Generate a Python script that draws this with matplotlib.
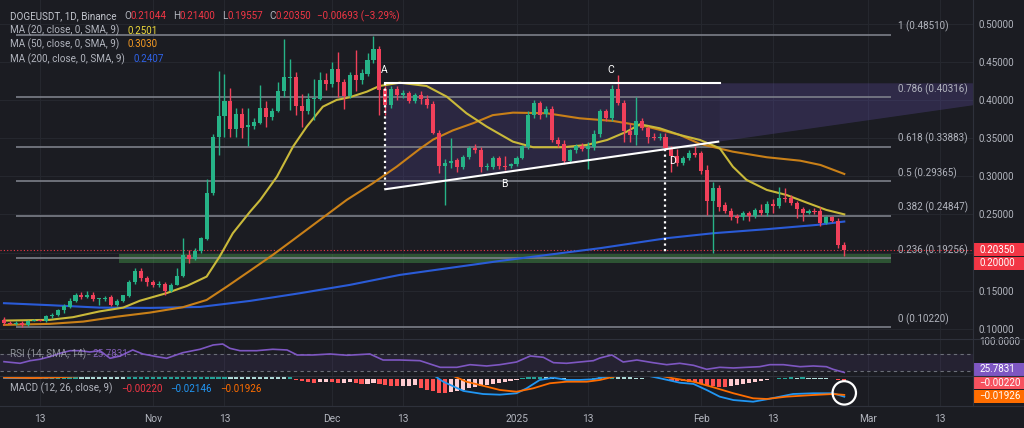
import numpy as np
import pandas as pd
import matplotlib
matplotlib.use('Agg')
import matplotlib.pyplot as plt
import matplotlib.patches as mpatches
from matplotlib.transforms import IdentityTransform

W, H = 1024, 428
BG = '#1b1c22'
GRID = '#25272e'
SEP = '#2e313b'
TXT = '#b2b5be'
UP, DOWN = '#26b387', '#f0405a'

# ---- data (DOGEUSDT daily) ----
start = '2024-10-07'
opens = [.112, .108, .1065, .108, .105, .111, .1115, .110, .117, .118,
         .125, .129, .137, .145, .142, .145, .139, .139, .142, .131,
         .137, .143, .161, .176, .167, .161, .158, .159, .150, .158,
         .170, .197, .192, .202, .218, .278, .351, .379, .399, .362,
         .381, .364, .366, .370, .390, .377, .386, .412, .429, .430,
         .392, .386, .401, .401, .426, .421, .440, .424, .405, .433,
         .426, .434, .452, .466, .414, .393, .414, .406, .409, .398,
         .406, .401, .394, .357, .313, .317, .321, .312, .325, .337,
         .335, .312, .312, .324, .314, .313, .316, .324, .338, .380,
         .396, .381, .388, .348, .342, .320, .334, .340, .336, .338,
         .355, .385, .376, .414, .396, .359, .354, .372, .363, .352,
         .350, .352, .337, .327, .318, .324, .331, .330, .308, .267,
         .284, .262, .255, .248, .246, .252, .248, .256, .252, .264,
         .261, .271, .271, .265, .257, .252, .255, .255, .239, .246,
         .242, .21044]
highs = [.116, .111, .110, .110, .112, .113, .113, .118, .121, .126,
         .133, .140, .147, .148, .150, .148, .141, .143, .144, .139,
         .145, .164, .180, .180, .170, .164, .163, .161, .160, .180,
         .219, .204, .206, .221, .297, .355, .438, .434, .415, .390,
         .389, .390, .376, .419, .398, .390, .424, .480, .453, .437,
         .408, .409, .428, .437, .435, .449, .463, .427, .437, .465,
         .440, .461, .484, .470, .418, .418, .418, .413, .412, .409,
         .412, .406, .398, .360, .322, .350, .324, .328, .340, .342,
         .338, .318, .327, .326, .326, .318, .327, .341, .385, .400,
         .398, .392, .392, .352, .348, .336, .342, .344, .345, .361,
         .388, .388, .420, .433, .400, .370, .404, .376, .366, .356,
         .356, .356, .340, .336, .327, .334, .339, .333, .315, .293,
         .289, .266, .258, .251, .254, .254, .258, .264, .267, .270,
         .286, .284, .276, .268, .260, .257, .258, .260, .248, .248,
         .245, .214]
lows = [.105, .106, .105, .103, .104, .110, .110, .109, .114, .117,
        .121, .128, .135, .139, .141, .137, .132, .137, .130, .130,
        .136, .142, .159, .163, .156, .155, .155, .144, .149, .157,
        .168, .186, .190, .199, .216, .275, .328, .351, .352, .352,
        .350, .340, .362, .368, .365, .374, .384, .404, .387, .380,
        .365, .381, .374, .400, .413, .417, .404, .388, .403, .411,
        .421, .431, .448, .380, .380, .389, .400, .402, .396, .396,
        .395, .389, .355, .304, .262, .311, .306, .309, .322, .330,
        .306, .308, .309, .310, .308, .311, .314, .322, .336, .376,
        .375, .378, .345, .338, .316, .318, .331, .333, .310, .335,
        .352, .372, .373, .393, .345, .345, .341, .360, .343, .347,
        .347, .334, .306, .313, .315, .321, .325, .303, .249, .200,
        .254, .252, .243, .239, .243, .242, .245, .249, .248, .252,
        .258, .266, .262, .245, .242, .250, .250, .235, .237, .240,
        .206, .19557]
closes = [.108, .107, .108, .105, .111, .1115, .111, .117, .118, .125,
          .130, .137, .144, .142, .144, .139, .140, .141, .131, .137,
          .144, .162, .176, .167, .161, .158, .159, .150, .158, .170,
          .197, .192, .202, .219, .278, .351, .379, .399, .362, .381,
          .363, .367, .371, .390, .377, .386, .412, .430, .430, .392,
          .386, .401, .402, .426, .421, .440, .424, .405, .433, .426,
          .435, .452, .466, .413, .393, .414, .406, .409, .398, .406,
          .401, .393, .357, .313, .317, .320, .312, .325, .337, .334,
          .312, .313, .324, .313, .312, .316, .324, .339, .380, .396,
          .380, .388, .348, .342, .320, .334, .340, .336, .339, .355,
          .385, .376, .414, .396, .359, .354, .372, .363, .352, .350,
          .352, .337, .326, .317, .324, .331, .328, .307, .267, .284,
          .260, .255, .247, .245, .252, .248, .256, .252, .264, .261,
          .271, .270, .265, .257, .252, .255, .253, .239, .246, .242,
          .21043, .2035]

ma20_day = [0, 7.7, 11.6, 16, 20, 22.8, 27.3, 30.7, 34, 36.2, 38.4, 41.3, 43, 45.8, 48.5,
            50.8, 53.5, 55.8, 58, 60.9, 63, 66.4, 70.9, 74.3, 77.6, 81, 85.4, 88.8, 93.8,
            97.8, 101.2, 104.5, 106.7, 110, 113.4, 116.8, 120.1, 122.3, 124.6, 128, 131.3,
            134.7, 138, 141]
ma20_val = [.111, .112, .1155, .123, .128, .137, .147, .1564, .1686, .195, .2254, .2537, .269,
            .2995, .3388, .365, .3911, .3999, .4034, .4108, .4182, .4225, .4182, .4042, .3825,
            .365, .3453, .338, .338, .341, .3475, .3584, .3681, .3629, .3541, .3475, .3367,
            .3126, .2952, .2821, .2755, .2655, .2559, .2501]
ma50_day = [0, 7.7, 13.3, 19, 24.5, 30, 34, 37.4, 41.3, 45.1, 48.5, 53, 57.5, 61.9, 65.9,
            69.8, 72, 75.3, 78.7, 82, 85.4, 91.1, 96.6, 102.2, 107.9, 113.4, 116.8, 122.3,
            128, 133.6, 137, 141]
ma50_val = [.1054, .1067, .1097, .1162, .1215, .1285, .138, .1555, .1764, .197, .2166, .2428,
            .269, .2909, .3126, .336, .348, .360, .3694, .380, .3833, .3825, .3759, .3724,
            .365, .3541, .3423, .3322, .3249, .3204, .3148, .303]
ma200_day = [0, 7.7, 16, 24.5, 32.9, 41.3, 49.7, 58, 66.4, 83.2, 100, 111.2, 119, 128, 136.4, 141]
ma200_val = [.1338, .1312, .128, .1276, .1289, .1368, .1469, .1577, .1708, .1891, .2058,
             .2189, .2254, .2307, .2363, .2407]

rsi_day = [0, 2.7, 4.4, 6, 7.7, 9.4, 11.1, 12.8, 14.4, 16.1, 17.8, 19.5, 21.6, 23.3, 25.7,
           27.3, 30, 32.9, 35.1, 36.7, 37.9, 39.6, 42.4, 45.1, 47.5, 49.2, 51.8, 54.7, 57.6,
           61.4, 63.6, 66.4, 69.8, 73.2, 76, 78.2, 81, 83.2, 86, 88.3, 90.5, 92.2, 94.4, 96.6,
           98.9, 100, 102, 103.9, 106.2, 108.9, 111.2, 113.4, 115.7, 117.9, 120.1, 122.4,
           124.6, 126.8, 128.5, 130.8, 133.6, 135.8, 138, 139.1, 141]
rsi_val = [51.6, 47.7, 54, 57.3, 63.5, 71.7, 77.9, 77.9, 74.8, 77.9, 59.7, 65.2, 79.6, 70,
           63.5, 59.7, 73.1, 81.3, 91.6, 93.9, 83.6, 77.9, 77.9, 81.3, 79.6, 67.6, 67.6, 70,
           66.9, 70, 55.6, 55.6, 54, 38.1, 38.1, 44.4, 41.3, 44.4, 50.8, 65.2, 62.1, 49.2,
           47.7, 50.8, 54, 60.4, 67.6, 50.8, 55.6, 49.2, 44.4, 47.7, 42.9, 33.4, 38.1, 36.5,
           38.1, 39.6, 44.4, 44.4, 39.6, 41.3, 39.6, 33.4, 25.7831]

macd_day = [0, 4, 8, 11, 14, 20, 30, 36, 45, 55, 63, 68, 72.3, 73.7, 77.1, 80.4, 83.2, 86,
            87.7, 89.9, 92.2, 94.4, 96.6, 98.9, 101.1, 103.4, 106.7, 110.1, 113.4, 115.7,
            117.9, 120.1, 122.4, 125.7, 128, 130.2, 132.4, 135.8, 139.1, 141]
macd_val = [.0012, .0010, .0018, .0030, .0060, .0080, .0120, .0300, .0550, .0500, .0450,
            .0250, .0036, -.0033, -.0145, -.0182, -.0190, -.0173, -.0113, -.0012, .0016,
            -.0012, -.0012, -.0004, .0028, .0050, .0060, .0008, -.0045, -.0060, -.0133,
            -.0214, -.0255, -.0275, -.0246, -.0214, -.0182, -.0173, -.0173, -.02146]
signal_day = [0, 5, 10, 14, 20, 30, 40, 50, 60, 70, 75.4, 77.6, 81, 83.2, 86, 88.8, 91.6,
              94.4, 97.8, 100, 102.8, 105.6, 110.1, 112.3, 115.7, 119, 122.4, 125.7, 128,
              131.3, 135.8, 139.1, 141]
signal_val = [.0018, .0012, .0022, .0040, .0070, .0100, .0350, .0500, .0480, .0200, .0036,
              -.0033, -.0093, -.0133, -.0154, -.0113, -.0052, -.0033, -.0033, -.0012, .0036,
              .0060, .0040, .0008, -.0033, -.0100, -.0173, -.0234, -.0242, -.0214, -.0194,
              -.0182, -.01926]
hist = ([.0004, .0002, -.0002, -.0003, .0001, .0004, .0007, .0010, .0014, .0018]
        + [.0060, .0100, .0140, .0130, .0125, .0118, .0110, .0102, .0095, .0088]
        + [.0080]
        + [.0085, .0090, .0095, .0100, .0105, .0110, .0115, .0120, .0125, .0135, .0150,
           .0165, .0180, .0200, .0230, .0260, .0280]
        + [.0260, .0240, .0220, .0200, .0180, .0160, .0140, .0120, .0100, .0080]
        + [.0085]
        + [-.001, -.003, -.004, -.005, -.004, -.0035, -.004, -.005, -.0045, -.004, -.005,
           -.006, -.0055, -.005, -.0065, -.0075, -.0085, -.009, -.0085, -.008, -.0078,
           -.011, -.013, -.015, -.017, -.0175, -.016, -.015, -.013, -.011, -.0095, -.008,
           -.0068, -.0055, -.0045, -.0035, -.0025, -.0012]
        + [.0010, .0025, .0038, .0045, .0040, .0028, .0015, .0006, -.0004, -.0006, -.0002,
           .0003, .0012, .0022, .0032, .0040, .0035, .0028, .0022, .0014, .0008]
        + [-.0003, -.0005, -.0004, -.0012, -.0020, -.0026, -.0028, -.0032, -.0040,
           -.0055, -.0070, -.0085, -.0092, -.0094, -.0085, -.0072, -.0060, -.0048,
           -.0035, -.0022, -.0010, -.0002]
        + [.0008, .0014, .0018, .0016, .0019, .0015, .0012, .0009, .0006, .0003, -.0010, -.0022])

fib_levels = ['1', '0.786', '0.618', '0.5', '0.382', '0.236', '0']
fib_prices = [0.48510, 0.40316, 0.33883, 0.29365, 0.24847, 0.19256, 0.10220]
price_ticks = [0.10, 0.15, 0.20, 0.25, 0.30, 0.35, 0.40, 0.45, 0.50]
tick_dates = ['2024-10-13', '2024-11-01', '2024-11-13', '2024-12-01', '2024-12-13',
              '2025-01-01', '2025-01-13', '2025-02-01', '2025-02-13', '2025-03-01', '2025-03-13']
tick_labels = ['13', 'Nov', '13', 'Dec', '13', '2025', '13', 'Feb', '13', 'Mar', '13']

plt.rcParams['font.family'] = ['Roboto', 'DejaVu Sans']
FS = 7.1

dates = pd.date_range(start, periods=len(closes), freq='D')
x = np.arange(len(closes))
o, h, l, c = map(np.array, (opens, highs, lows, closes))
tick_pos = (pd.to_datetime(tick_dates) - dates[0]).days

fig = plt.figure(figsize=(W / 100, H / 100), dpi=100, facecolor=BG)


def frame(top, bottom):
    return [0, 1 - bottom / H, 973 / W, (bottom - top) / H]


ax = fig.add_axes(frame(0, 339))
ax_rsi = fig.add_axes(frame(339, 376), sharex=ax)
ax_macd = fig.add_axes(frame(376, 406), sharex=ax)
for a in (ax, ax_rsi, ax_macd):
    a.set_facecolor(BG)
    for s in a.spines.values():
        s.set_visible(False)
    a.set_xticks(tick_pos)
    a.grid(axis='x', color=GRID, lw=0.8)
    a.set_axisbelow(True)
    a.tick_params(axis='x', length=0, labelbottom=False)
    a.tick_params(axis='y', length=0)
ax.set_xlim(-0.67, 162.6)

# ---- main price panel ----
ax.set_ylim(0.0869, 0.5308)
ax.yaxis.tick_right()
ax.set_yticks(price_ticks)
# the 0.20 label sits under the price tags, as on the chart
ax.set_yticklabels(['' if abs(v - 0.20) < 1e-9 else f'{v:.5f}' for v in price_ticks])
ax.tick_params(axis='y', pad=4.3, labelsize=FS, labelcolor=TXT)
ax.grid(axis='y', color=GRID, lw=0.8)

# triangle pattern (A-B-C-D)
a_day, a_top, a_bot = 63.98, 0.4217, 0.2830
b_day, b_val = 119.85, 0.3453
slope = (b_val - a_bot) / (b_day - a_day)
right = 162.6
ax.fill([a_day, right, right, a_day],
        [a_top, a_top, a_bot + slope * (right - a_day), a_bot],
        color='#5b4a9e', alpha=0.25, lw=0, zorder=1)
ax.fill([120.1, right, right, 120.1],
        [a_top, a_top, a_bot + slope * (right - a_day), a_bot + slope * (120.1 - a_day)],
        color='#6a5cb0', alpha=0.07, lw=0, zorder=1)

# green support zone and fib levels
ax.fill_between([19.3, 148.8], 0.1865, 0.1978, color='#4caf50', alpha=0.38, lw=0, zorder=1.5)
for lev, p in zip(fib_levels, fib_prices):
    ax.hlines(p, 2, 148.8, color='#7c7f89', lw=1.2, zorder=2)
    ax.annotate(f'{lev} ({p:.5f})', xy=(150, p), xytext=(0, 6), textcoords='offset points',
                va='center', ha='left', fontsize=FS, color=TXT)
ax.axhline(closes[-1], color='#f23645', ls=(0, (1, 2)), lw=0.8, zorder=3)

ax.plot([a_day, 120.1], [a_top, a_top], color='white', lw=1.5, zorder=6)
ax.plot([a_day, b_day], [a_bot, b_val], color='white', lw=1.5, zorder=6)
ax.plot([a_day, a_day], [a_top, a_bot], color='white', ls=(0, (1, 1.5)), lw=1.6, zorder=6)
ax.plot([110.96, 110.96], [a_bot + slope * (110.96 - a_day), 0.2013], color='white',
        ls=(0, (1, 1.5)), lw=1.6, zorder=6)
for name, d, p in [('A', 63.8, 0.4391), ('B', 83.9, 0.2899), ('C', 101.8, 0.4391), ('D', 112.1, 0.3200)]:
    ax.text(d, p, name, color='white', fontsize=7.5, ha='center', va='center', zorder=7)

# moving averages
ax.plot(ma200_day, ma200_val, color='#2a5bd7', lw=1.5, zorder=3)
ax.plot(ma50_day, ma50_val, color='#c98018', lw=1.5, zorder=3)
ax.plot(ma20_day, ma20_val, color='#c9b93a', lw=1.5, zorder=3)

# candles
up = c >= o
col = np.where(up, UP, DOWN)
ax.vlines(x, l, h, colors=col, lw=1, zorder=4)
ax.bar(x, np.maximum(np.abs(c - o), 0.0012), bottom=np.minimum(o, c), width=0.68,
       color=col, lw=0, zorder=5)

# ---- RSI panel ----
ax_rsi.set_ylim(17.3, 105.9)
ax_rsi.yaxis.tick_right()
ax_rsi.set_yticks([100])
ax_rsi.set_yticklabels(['100.0000'])
ax_rsi.tick_params(axis='y', pad=4.3, labelsize=FS, labelcolor=TXT)
ax_rsi.axhspan(30, 70, color='#7e57c2', alpha=0.1, lw=0)
ax_rsi.axhline(70, color='#6b6e78', ls=(0, (3, 3)), lw=0.8)
ax_rsi.axhline(30, color='#6b6e78', ls=(0, (3, 3)), lw=0.8)
ax_rsi.plot(rsi_day, rsi_val, color='#7e57c2', lw=1.2)

# ---- MACD panel ----
ax_macd.set_ylim(-0.0327, 0.0036)
ax_macd.set_yticks([])
hcol = []
for i, v in enumerate(hist):
    prev = hist[i - 1] if i else v
    if v >= 0:
        hcol.append('#26a69a' if v >= prev else '#b2dfdb')
    else:
        hcol.append('#ffcdd2' if v > prev else '#ff5252')
ax_macd.bar(x, hist, width=0.7, color=hcol, lw=0)
ax_macd.plot(macd_day, macd_val, color='#2196f3', lw=1.3)
ax_macd.plot(signal_day, signal_val, color='#ff6d00', lw=1.3)
ax_macd.tick_params(axis='x', labelbottom=True, labelsize=FS + 0.2, labelcolor=TXT, pad=5.5)
ax_macd.set_xticklabels(tick_labels)

cx, cy = ax_macd.transData.transform((x[-1], signal_val[-1]))
fig.patches.append(mpatches.Circle((cx, cy + 2), 11.7, fill=False, ec='white', lw=1.6,
                                   transform=IdentityTransform(), figure=fig))

# ---- separators ----
for yy in (339, 376, 406):
    fig.add_artist(plt.Line2D([0, 1], [1 - yy / H] * 2, transform=fig.transFigure, color=SEP, lw=0.8))
fig.add_artist(plt.Line2D([973 / W] * 2, [1 - 406 / H, 1], transform=fig.transFigure, color=SEP, lw=0.8))


# ---- price tags on the right axis ----
def tag(ypix, text, fc):
    fig.patches.append(mpatches.Rectangle((973 / W, 1 - (ypix + 6.5) / H), 51 / W, 13 / H,
                                          transform=fig.transFigure, fc=fc, ec='none', figure=fig))
    fig.text(979 / W, 1 - ypix / H, text, color='white', fontsize=FS, va='center', ha='left')


def ypix_of(a, v):
    return H - a.transData.transform((0, v))[1]


y1 = ypix_of(ax, closes[-1])
tag(y1, '0.20350', '#f23645')
tag(y1 + 13.5, '0.20000', '#f23645')
tag(min(ypix_of(ax_rsi, rsi_val[-1]), 369), f'{rsi_val[-1]:.4f}', '#7e57c2')
y3 = max(ypix_of(ax_macd, hist[-1]), 382.7)
tag(y3, f'\u2212{abs(hist[-1]):.5f}', '#f7525f')
tag(max(ypix_of(ax_macd, signal_val[-1]), y3 + 13.5), f'\u2212{abs(signal_val[-1]):.5f}', '#ff6d00')

# ---- legends ----
rend = fig.canvas.get_renderer()


def seq_text(xp, yp, parts, alpha=1.0):
    for s, color, gap in parts:
        t = fig.text(xp / W, 1 - yp / H, s, color=color, fontsize=FS, va='center', ha='left',
                     alpha=alpha)
        xp += t.get_window_extent(renderer=rend).width + gap


RED = '#f23645'
chg = closes[-1] - closes[-2]
seq_text(10.5, 16, [('DOGEUSDT, 1D, Binance', '#c3c6ce', 7),
                    ('O', TXT, 0), (f'{opens[-1]:.5f}', RED, 6),
                    ('H', TXT, 0), (f'{highs[-1]:.5f}', RED, 6),
                    ('L', TXT, 0), (f'{lows[-1]:.5f}', RED, 6),
                    ('C', TXT, 0), (f'{closes[-1]:.5f}', RED, 6),
                    (f'\u2212{abs(chg):.5f} (\u2212{abs(chg) / closes[-2] * 100:.2f}%)', RED, 0)])
seq_text(10.5, 30.7, [('MA (20, close, 0, SMA, 9)', TXT, 8), (f'{ma20_val[-1]:.4f}', '#ecd83a', 0)])
seq_text(10.5, 44.3, [('MA (50, close, 0, SMA, 9)', TXT, 8), (f'{ma50_val[-1]:.4f}', '#f59a23', 0)])
seq_text(10.5, 59, [('MA (200, close, 0, SMA, 9)', TXT, 8), (f'{ma200_val[-1]:.4f}', '#2f62e8', 0)])
seq_text(10.5, 354, [('RSI (14, SMA, 14)', TXT, 6), (f'{rsi_val[-1]:.4f}', '#9b6fdc', 0)], alpha=0.75)
seq_text(10.5, 388.7, [('MACD (12, 26, close, 9)', TXT, 8),
                       (f'\u2212{abs(hist[-1]):.5f}', RED, 8),
                       (f'\u2212{abs(macd_val[-1]):.5f}', '#2196f3', 8),
                       (f'\u2212{abs(signal_val[-1]):.5f}', '#ff6d00', 0)])

fig.savefig('out.png', dpi=100, facecolor=BG)
